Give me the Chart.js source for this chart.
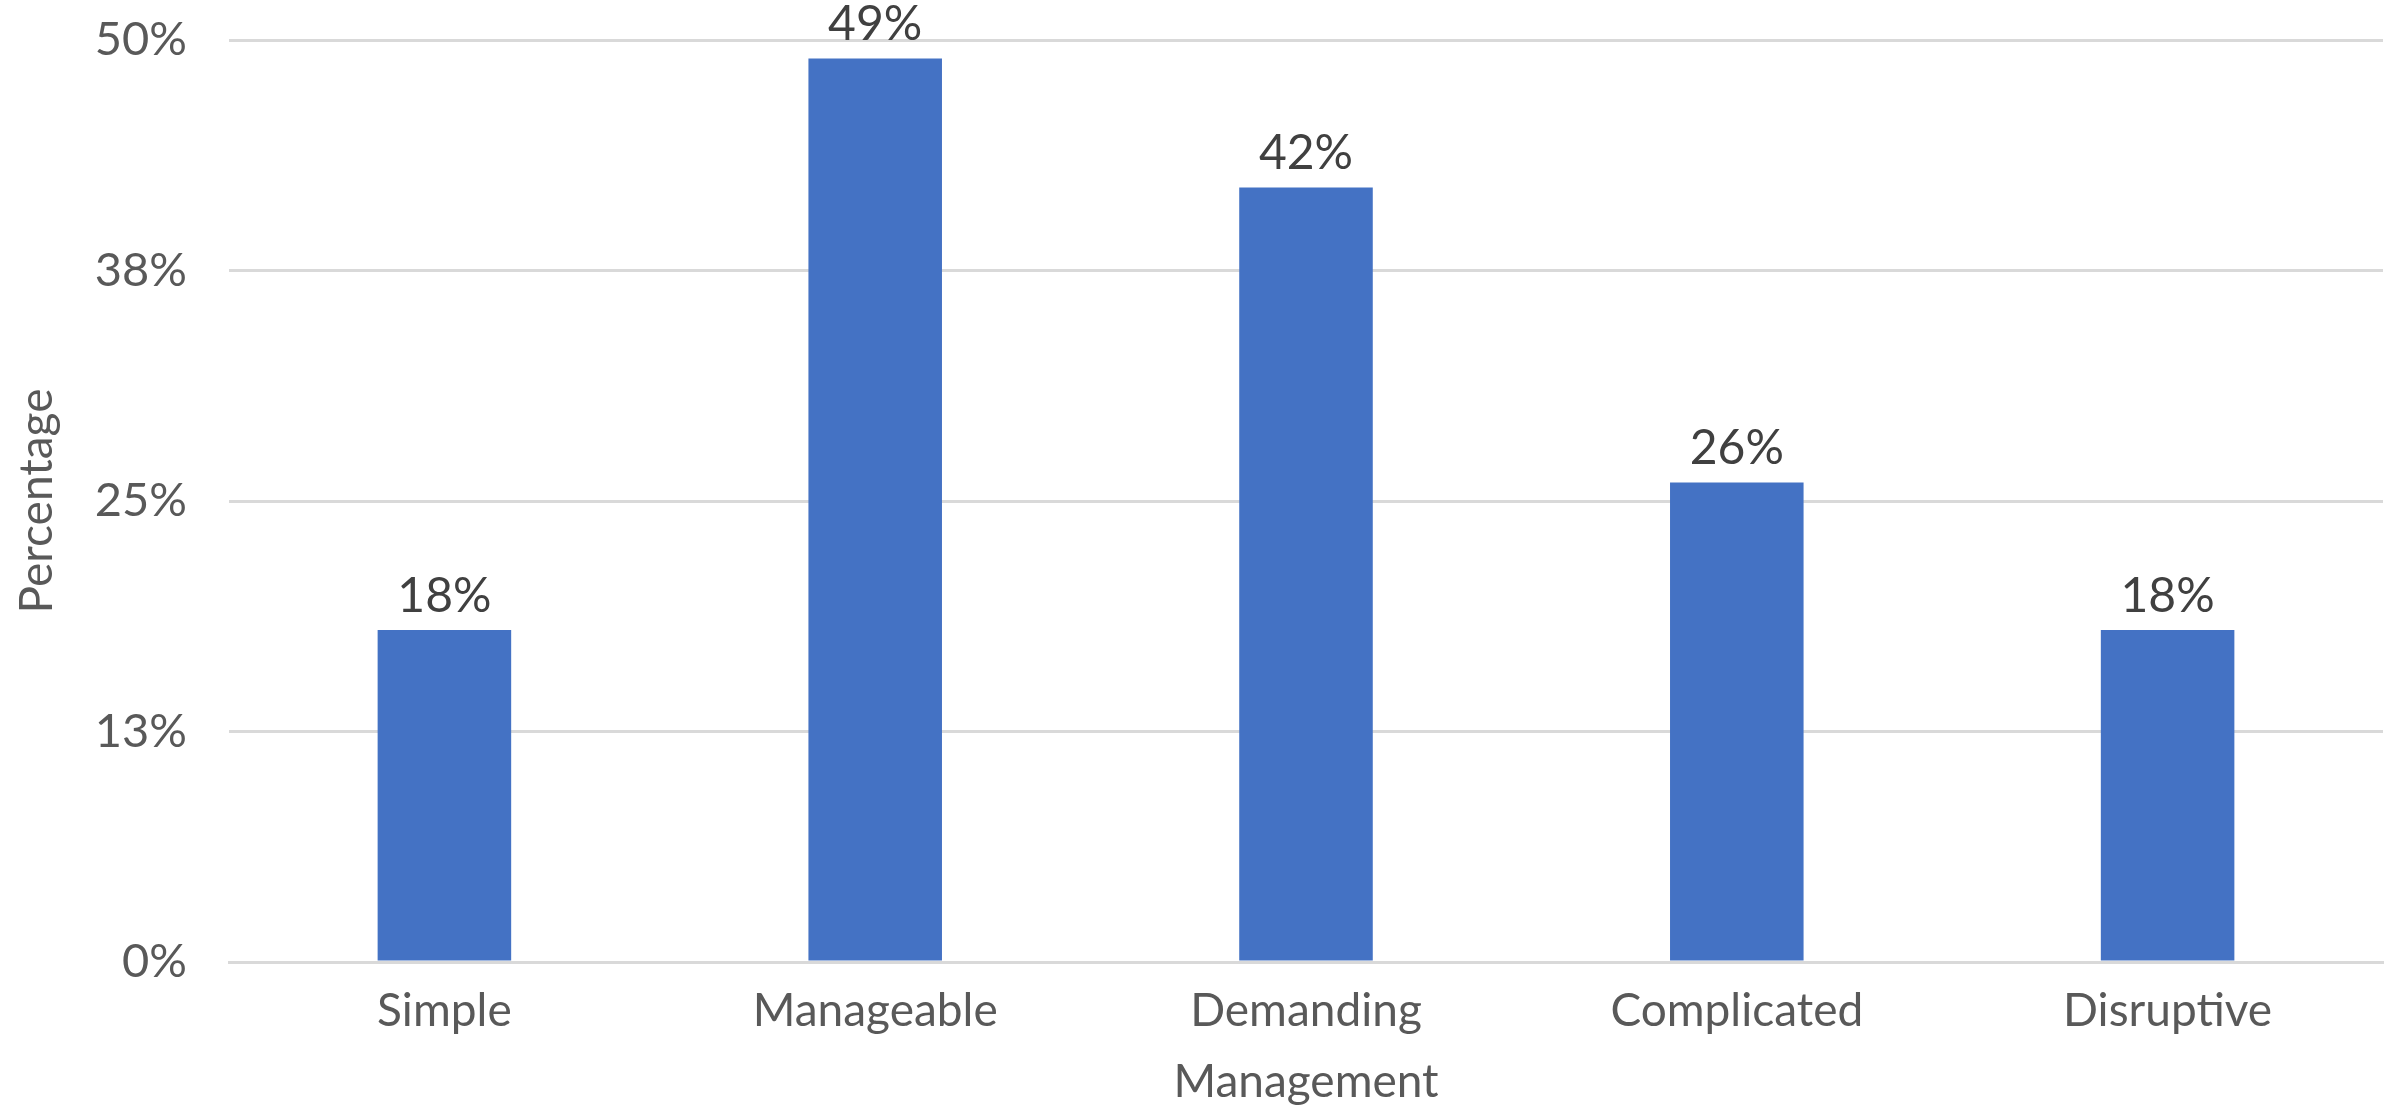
<!DOCTYPE html>
<html>
<head>
<meta charset="utf-8">
<script src="https://cdn.jsdelivr.net/npm/chart.js@4.4.0/dist/chart.umd.min.js"></script>
<style>
  html, body { margin: 0; padding: 0; background: #fff; }
  #wrap { width: 2399px; height: 1112px; }
</style>
</head>
<body>
<div id="wrap"><canvas id="grafico"></canvas></div>
<script>
const categorias = ['Simple', 'Manageable', 'Demanding', 'Complicated', 'Disruptive'];
const valores = [18, 49, 42, 26, 18];
const ticksY = [0, 12.5, 25, 37.5, 50];
const etiquetasY = ['0%', '13%', '25%', '38%', '50%'];

const fuente = 'Lato, "Open Sans", sans-serif';

// etiquetas encima de cada barra
const etiquetasBarras = {
    id: 'etiquetasBarras',
    afterDatasetsDraw(chart) {
        const ctx = chart.ctx;
        const meta = chart.getDatasetMeta(0);
        ctx.save();
        ctx.font = '48px ' + fuente;
        ctx.fillStyle = '#404040';
        ctx.textAlign = 'center';
        ctx.textBaseline = 'bottom';
        meta.data.forEach((bar, i) => {
            ctx.fillText(valores[i] + '%', bar.x, bar.y - 10);
        });
        ctx.restore();
    }
};

const ctx = document.getElementById('grafico').getContext('2d');
const chart = new Chart(ctx, {
    type: 'bar',
    data: {
        labels: categorias,
        datasets: [{
            data: valores,
            backgroundColor: '#4472C4',
            borderWidth: 0,
            categoryPercentage: 1,
            barPercentage: 0.31
        }]
    },
    options: {
        responsive: true,
        maintainAspectRatio: false,
        animation: false,
        layout: { padding: { top: 40, right: 16, left: 0, bottom: 0 } },
        plugins: {
            legend: { display: false },
            tooltip: { enabled: false }
        },
        scales: {
            y: {
                min: 0,
                max: 50,
                afterBuildTicks: (axis) => { axis.ticks = ticksY.map(v => ({ value: v })); },
                afterFit: (axis) => {
                    axis.width = 229;
                    axis.paddingTop = 0;
                    axis.paddingBottom = 0;
                },
                ticks: {
                    padding: 42,
                    color: '#595959',
                    font: { family: fuente, size: 47 },
                    callback: (v) => etiquetasY[ticksY.indexOf(v)]
                },
                grid: { color: '#d9d9d9', lineWidth: 3, drawTicks: false },
                border: { display: false },
                title: {
                    display: true,
                    text: 'Percentage',
                    color: '#595959',
                    font: { family: fuente, size: 46 },
                    padding: { top: 10, bottom: 0 }
                }
            },
            x: {
                afterFit: (axis) => { axis.height = 150; },
                ticks: {
                    padding: 22,
                    color: '#595959',
                    font: { family: fuente, size: 46 }
                },
                grid: { display: false, drawTicks: false },
                border: { color: '#d9d9d9', width: 3 },
                title: {
                    display: true,
                    text: 'Management',
                    color: '#595959',
                    font: { family: fuente, size: 46 },
                    padding: { top: 0, bottom: 2 }
                }
            }
        }
    },
    plugins: [etiquetasBarras]
});
</script>
</body>
</html>
